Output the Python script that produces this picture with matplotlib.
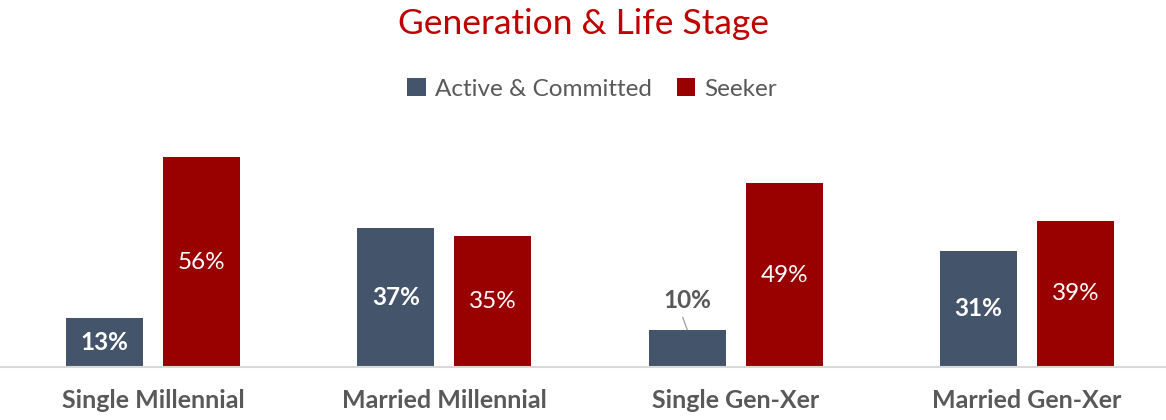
import numpy as np
import matplotlib.pyplot as plt

categories = ['Single Millennial', 'Married Millennial', 'Single Gen-Xer', 'Married Gen-Xer']
active = [13, 37, 10, 31]
seeker = [56, 35, 49, 39]
series_names = ['Active & Committed', 'Seeker']

blue = '#44546A'
red = '#990000'
gray = '#595959'

plt.rcParams['font.family'] = ['Lato', 'DejaVu Sans']

fig = plt.figure(figsize=(11.66, 4.2), dpi=100)
ax = fig.add_axes([0, 0.126, 1, 0.536])

x = np.arange(len(categories))
w = 0.264
off = 0.1665
b1 = ax.bar(x - off, active, w, color=blue, label=series_names[0])
b2 = ax.bar(x + off, seeker, w, color=red, label=series_names[1])

ax.set_xlim(-0.525, 3.477)
ax.set_ylim(0, 60)

# value labels
for xi, v in zip(x, active):
    if v < 12:
        ax.text(xi - off, v + 7.8, f'{v}%', ha='center', va='center', color=gray,
                fontsize=17.5, fontweight='bold')
        ax.plot([xi - off - 0.015, xi - off], [v + 3.2, v], color='#A6A6A6', lw=1)
    else:
        ax.text(xi - off, v / 2, f'{v}%', ha='center', va='center', color='white',
                fontsize=17.5, fontweight='bold')
for xi, v in zip(x, seeker):
    ax.text(xi + off, v / 2, f'{v}%', ha='center', va='center', color='white',
            fontsize=17.5)

for s in ['top', 'right', 'left']:
    ax.spines[s].set_visible(False)
ax.spines['bottom'].set_color('#D9D9D9')
ax.spines['bottom'].set_linewidth(1.5)
ax.set_yticks([])
ax.set_xticks(x)
ax.set_xticklabels(categories, fontsize=18, fontweight='bold', color=gray)
ax.tick_params(axis='x', length=0, pad=16)

fig.text(0.5, 0.943, 'Generation & Life Stage', ha='center', va='center',
         color='#C00000', fontsize=25.5)
fig.legend(handles=[b1, b2], loc='center', bbox_to_anchor=(0.508, 0.788), ncol=2,
           frameon=False, fontsize=17.5, labelcolor=gray, handlelength=0.75,
           handleheight=0.75, handletextpad=0.4, columnspacing=1.0)

plt.savefig('out.png', dpi=100)
